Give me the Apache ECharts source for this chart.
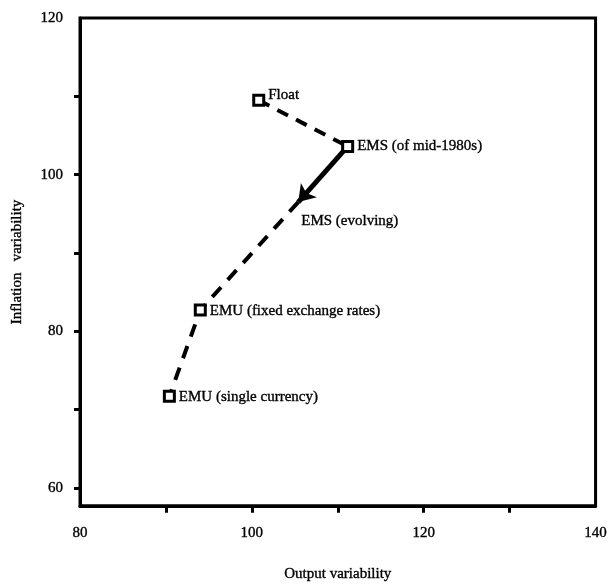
<!DOCTYPE html>
<html>
<head>
<meta charset="utf-8">
<script src="https://cdn.jsdelivr.net/npm/echarts@6/dist/echarts.min.js"></script>
<style>html,body{margin:0;padding:0;background:#fff}#c{width:610px;height:587px}</style>
</head>
<body>
<div id="c"></div>
<script>
// Regimes and their (output variability, inflation variability)
var names = ['Float', 'EMS (of mid-1980s)', 'EMS (evolving)', 'EMU (fixed exchange rates)', 'EMU (single currency)'];
var outputVar = [100.8, 111.15, 105.4, 94.0, 90.4];
var inflationVar = [109.5, 103.6, 96.5, 82.7, 71.7];
var xTickValues = [90, 100, 110, 120, 130];
var xLabelValues = [80, 100, 120, 140];
var yTickValues = [60, 70, 80, 90, 100, 110];
var yLabelValues = [60, 80, 100, 120];

function pt(i) { return [outputVar[i], inflationVar[i]]; }

var FONT = '"Liberation Serif", "DejaVu Serif", serif';
var TXT = {fontFamily: FONT, fontSize: 15, color: '#000', textBorderColor: '#000', textBorderWidth: 0.35};
function txt(extra) { return Object.assign({}, TXT, extra || {}); }

var chart = echarts.init(document.getElementById('c'), null, {renderer: 'canvas'});

var labelOffsets = {0: [0, -5], 1: [0, 0], 2: [0, 19], 3: [0, 1], 4: [0, 1]};

var scatterData = names.map(function (n, i) {
  return {
    name: n,
    value: pt(i),
    symbolSize: i === 2 ? 0 : 10,
    label: {offset: labelOffsets[i]}
  };
});

chart.setOption({
  animation: false,
  backgroundColor: '#fff',
  grid: {left: 80, right: 10, top: 18, bottom: 79, show: true, borderColor: '#000', borderWidth: 3, backgroundColor: 'transparent'},
  xAxis: {
    type: 'value', min: 80, max: 140,
    name: 'Output variability', nameLocation: 'middle', nameGap: 61,
    nameTextStyle: txt(),
    axisLine: {show: true, lineStyle: {color: '#000', width: 3}},
    axisTick: {show: true, customValues: xTickValues, length: 7, lineStyle: {color: '#000', width: 3}},
    axisLabel: txt({customValues: xLabelValues, margin: 20}),
    splitLine: {show: false}
  },
  yAxis: {
    type: 'value', min: 57.71, max: 120,
    name: 'Inflation   variability', nameLocation: 'middle', nameGap: 55, nameRotate: 90,
    nameTextStyle: txt(),
    axisLine: {show: true, lineStyle: {color: '#000', width: 3}},
    axisTick: {show: true, customValues: yTickValues, length: 6, lineStyle: {color: '#000', width: 3}},
    axisLabel: txt({customValues: yLabelValues, margin: 17}),
    splitLine: {show: false}
  },
  series: [
    {
      type: 'line', data: [pt(0), pt(1)], symbol: 'none',
      lineStyle: {color: '#000', width: 4, type: [12, 9], cap: 'butt'}, z: 2
    },
    {
      type: 'lines', coordinateSystem: 'cartesian2d',
      data: [{coords: [pt(1), pt(2)]}],
      symbol: ['none', 'arrow'], symbolSize: [10, 16],
      lineStyle: {color: '#000', width: 5, opacity: 1}, z: 2
    },
    {
      type: 'line', data: [pt(2), pt(3), pt(4)], symbol: 'none',
      lineStyle: {color: '#000', width: 4, type: [13, 10], cap: 'butt'}, z: 2
    },
    {
      type: 'scatter', data: scatterData, symbol: 'rect',
      itemStyle: {color: '#fff', borderColor: '#000', borderWidth: 3, opacity: 1},
      label: txt({
        show: true, position: 'right', distance: 3,
        formatter: function (p) { return p.name; }
      }),
      z: 3
    }
  ]
});
</script>
</body>
</html>
